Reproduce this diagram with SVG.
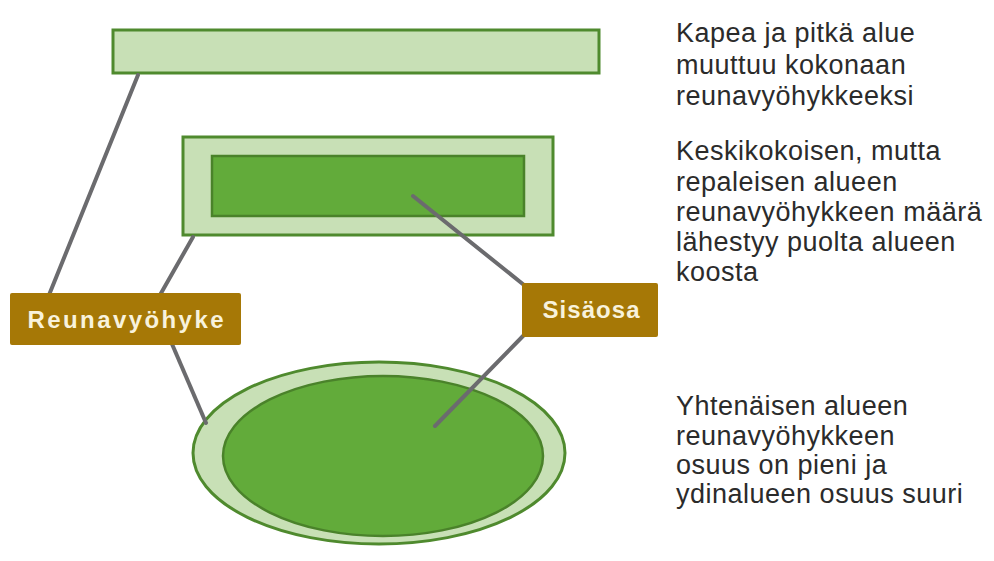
<svg xmlns="http://www.w3.org/2000/svg" width="994" height="561" viewBox="0 0 994 561">
<style>
.light{fill:#c8e0b6;stroke:#4f8a2e;stroke-width:3}
.dark{fill:#62ab3a;stroke:#4a822a;stroke-width:2.5}
.conn{stroke:#6b6b6e;stroke-width:4;stroke-linecap:round;fill:none}
.lbl{fill:#a67806}
.lbltxt{font-family:"Liberation Sans",Arial,sans-serif;font-weight:bold;font-size:24px;fill:#f8f2dc}
.desc{font-family:"Liberation Sans",Arial,sans-serif;font-size:27px;letter-spacing:0.5px;fill:#2b2b2b}
</style>
<rect width="994" height="561" fill="#ffffff"/>
<g id="narrow">
<rect class="light" x="113" y="30" width="486" height="43"/>
</g>
<g id="medium">
<rect class="light" x="183" y="137" width="370" height="98"/>
<rect class="dark" x="212" y="156" width="312" height="60"/>
</g>
<g id="compact">
<ellipse class="light" cx="379" cy="453" rx="186" ry="91"/>
<ellipse class="dark" cx="383" cy="456" rx="160" ry="80"/>
</g>
<g id="connectors">
<line class="conn" x1="138" y1="75" x2="49" y2="295"/>
<line class="conn" x1="193" y1="237" x2="160" y2="295"/>
<line class="conn" x1="172" y1="344" x2="206" y2="423"/>
<line class="conn" x1="413" y1="196" x2="524" y2="285"/>
<line class="conn" x1="524" y1="335" x2="435" y2="426"/>
</g>
<g id="reunavyohyke">
<rect class="lbl" x="10" y="293" width="231" height="52" rx="2"/>
<text class="lbltxt" x="125.5" y="328" text-anchor="middle" textLength="196" lengthAdjust="spacing">Reunavyöhyke</text>
</g>
<g id="sisaosa">
<rect class="lbl" x="522" y="283" width="136" height="54" rx="2"/>
<text class="lbltxt" x="591" y="318" text-anchor="middle" textLength="97" lengthAdjust="spacing">Sisäosa</text>
</g>
<g id="text1">
<text class="desc" x="676"><tspan x="676" y="42">Kapea ja pitkä alue</tspan><tspan x="676" y="74">muuttuu kokonaan</tspan><tspan x="676" y="105">reunavyöhykkeeksi</tspan></text>
</g>
<g id="text2">
<text class="desc" x="676"><tspan x="676" y="160">Keskikokoisen, mutta</tspan><tspan x="676" y="191">repaleisen alueen</tspan><tspan x="676" y="221">reunavyöhykkeen määrä</tspan><tspan x="676" y="251">lähestyy puolta alueen</tspan><tspan x="676" y="281">koosta</tspan></text>
</g>
<g id="text3">
<text class="desc" x="676"><tspan x="676" y="415">Yhtenäisen alueen</tspan><tspan x="676" y="445">reunavyöhykkeen</tspan><tspan x="676" y="474">osuus on pieni ja</tspan><tspan x="676" y="503">ydinalueen osuus suuri</tspan></text>
</g>
</svg>
